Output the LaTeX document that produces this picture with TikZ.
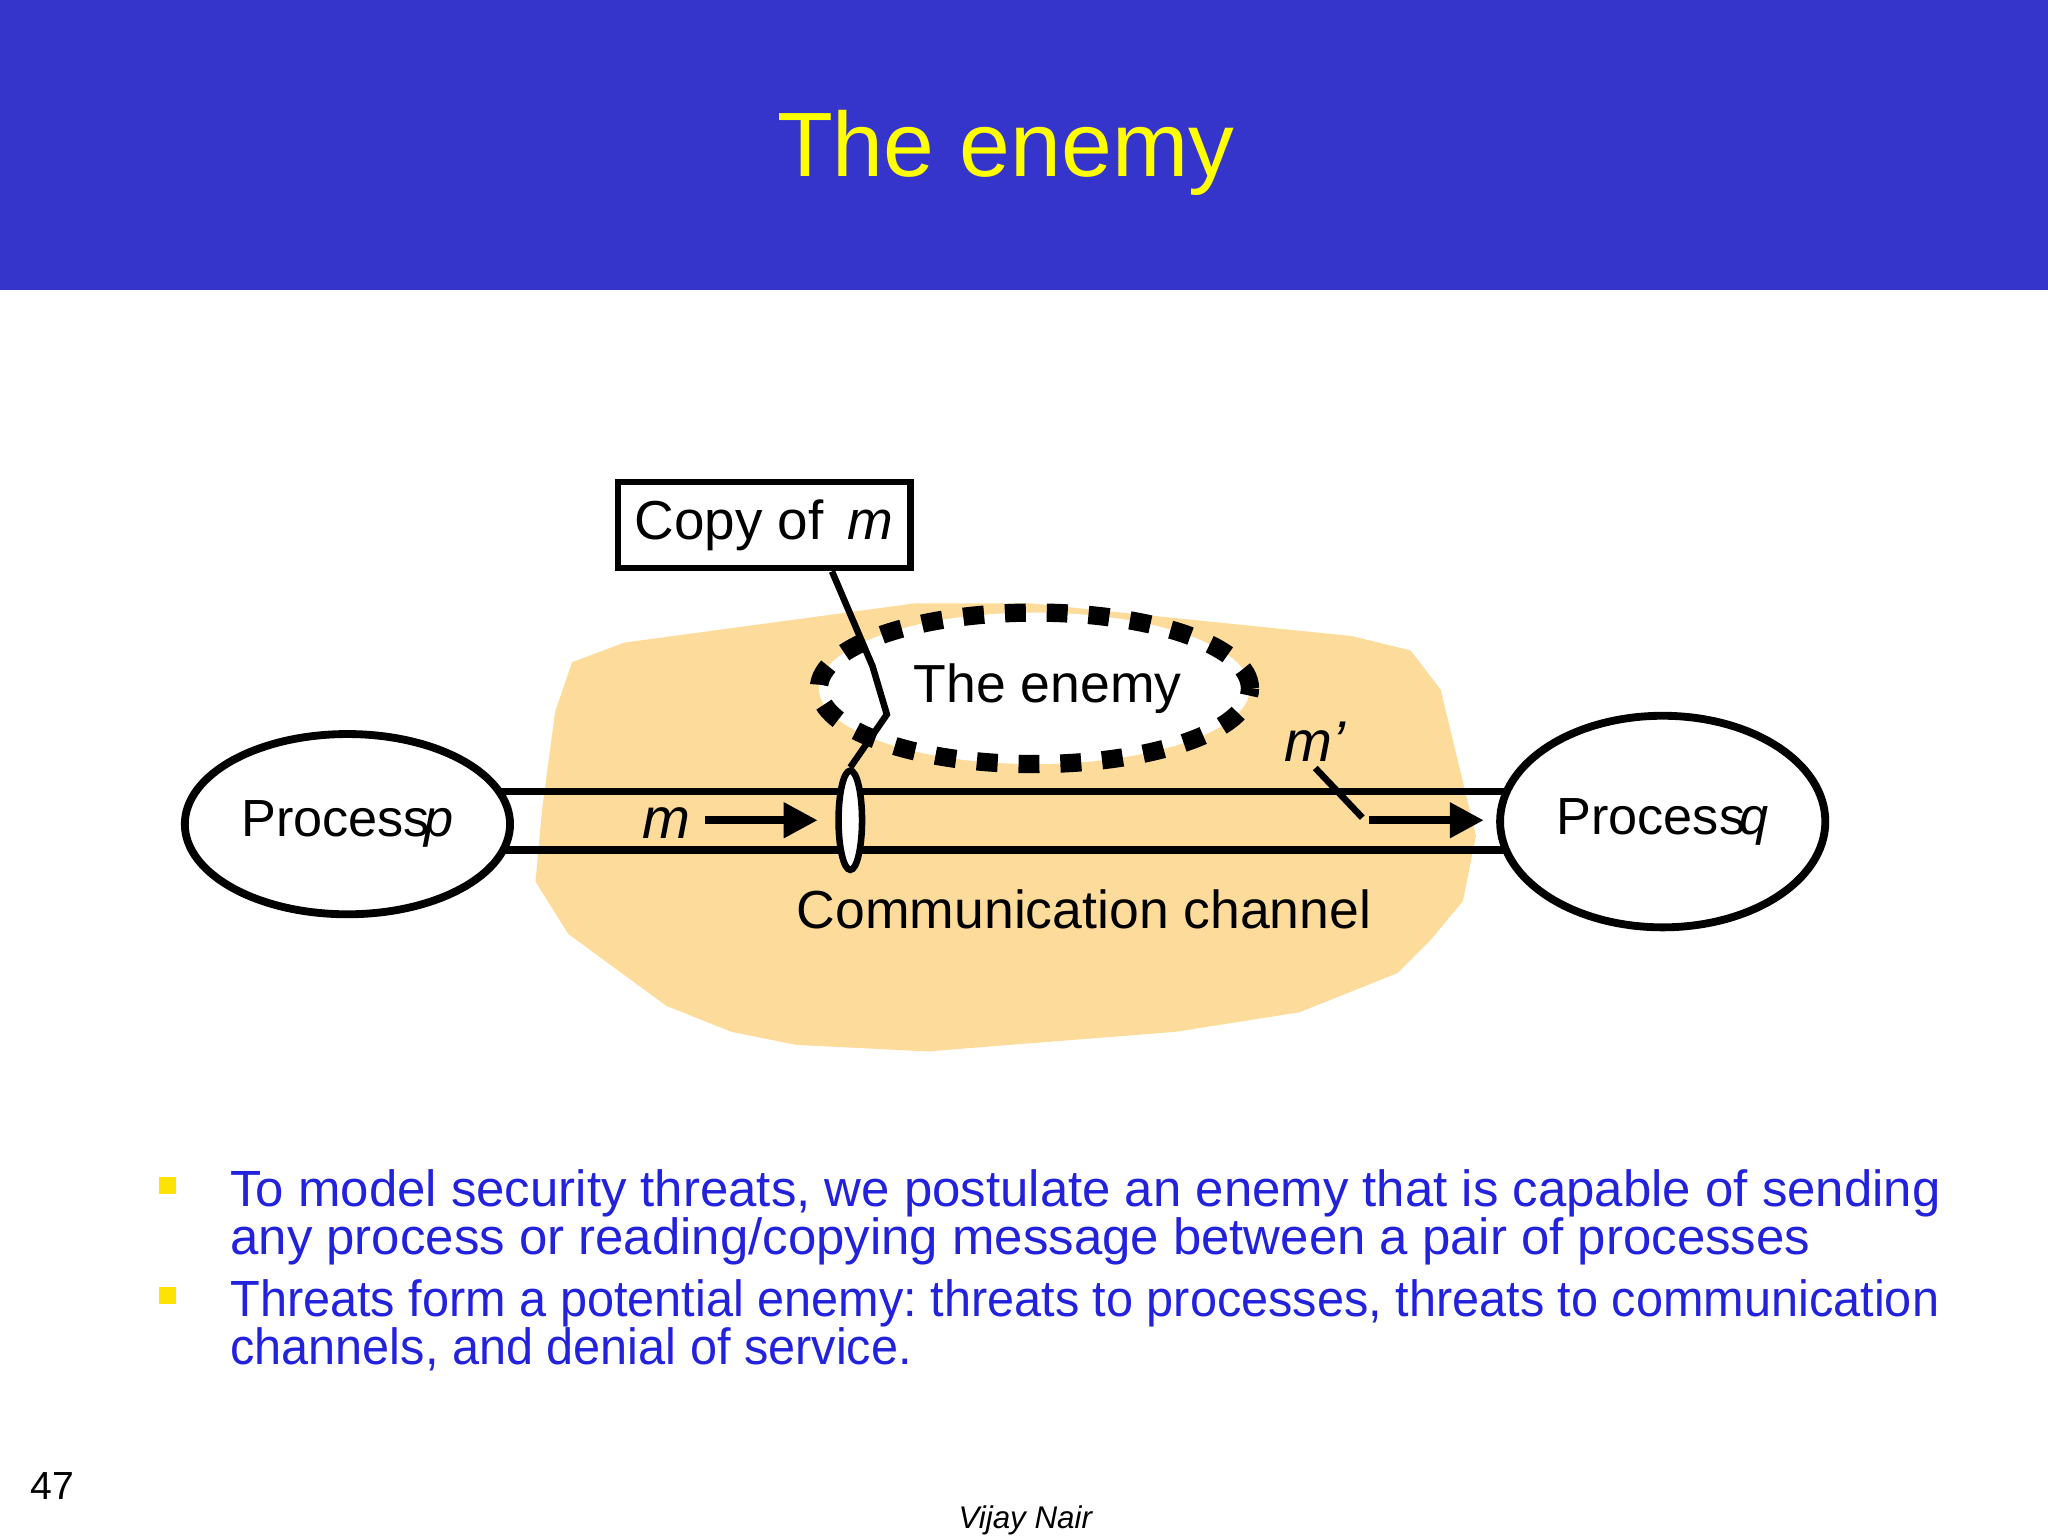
\documentclass[tikz,border=0pt]{standalone}
\usepackage{fontspec}
\setmainfont{Liberation Sans}
\frenchspacing
\begin{document}
\begin{tikzpicture}[x=0.5pt,y=-0.5pt,
  thk/.style={line width=3pt},
  proc/.style={ellipse,draw,line width=3pt,fill=white,font=\fontsize{20}{24}\selectfont},
  arr/.style={line width=3pt,-{Triangle[length=13pt,width=13pt]}},
  bul/.style={anchor=north west,align=left,inner sep=0pt,text=txtblue,font=\fontsize{19.5}{18.5}\selectfont}]
\usetikzlibrary{shapes.geometric,arrows.meta}
\definecolor{hdr}{HTML}{3535CC}
\definecolor{blob}{HTML}{FDDB9A}
\definecolor{txtblue}{HTML}{2222DD}
\definecolor{ttl}{HTML}{FFFF00}
\useasboundingbox (0,0) rectangle (1568,1176);
\fill[hdr] (0,0) rectangle (1568,222);
\node[text=ttl,font=\fontsize{35}{40}\selectfont] (title) at (770,117) {The enemy};
% blob
\fill[blob] (438,507) -- (478,492) -- (700,462) -- (790,462) -- (1035,487) -- (1080,498) -- (1103,528) -- (1130,640) -- (1120,690) -- (1095,720) -- (1070,745) -- (995,775) -- (900,790) -- (710,805) -- (610,800) -- (560,790) -- (510,770) -- (435,715) -- (410,675) -- (415,620) -- (425,545) -- cycle;
% enemy
\node[ellipse,draw,fill=white,line width=7pt,dash pattern=on 8pt off 8pt,minimum width=330pt*0.5,minimum height=116pt*0.5,inner sep=0pt] (enemy) at (792,527) {};
\node[font=\fontsize{20.5}{24}\selectfont] (enemyt) at (802,527) {The enemy};
% channel
\draw[thk] (380,606) -- (1158,606);
\draw[thk] (378,651) -- (1158,651);
\node[font=\fontsize{20.5}{24}\selectfont] (cc) at (830,696) {Communication channel};
% processes
\node[proc,minimum width=112pt,minimum height=69pt] (p) at (266,631) {Process\kern-2pt\textit{p}};
\node[proc,minimum width=116pt,minimum height=81pt] (q) at (1273,629) {Process\kern-2pt\textit{q}};
% tap
\node[ellipse,draw,fill=white,line width=2.5pt,minimum width=9pt,minimum height=38pt,inner sep=0pt] (tap) at (651,628) {};
\node[draw,line width=2.5pt,fill=white,font=\fontsize{21}{24}\selectfont,minimum width=112pt,minimum height=33pt] (copy) at (585,402) {Copy of\, \textit{m}};
\coordinate (b1) at (668,510);
\coordinate (b2) at (679,547);
\draw[line width=2.5pt] (copy.south -| 637,0) -- (b1) -- (b2) -- (tap.north);
% messages
\node[font=\itshape\fontsize{22}{24}\selectfont] (m) at (510,630) {m};
\coordinate (a1) at (540,628);
\coordinate (a2) at (626,628);
\draw[arr] (a1) -- (a2);
\node[font=\itshape\fontsize{22}{24}\selectfont] (mp) at (1007,568) {m’};
\coordinate (d1) at (1007,588);
\coordinate (d2) at (1043,626);
\draw[line width=2.5pt] (d1) -- (d2);
\coordinate (e1) at (1048,628);
\coordinate (e2) at (1136,628);
\draw[arr] (e1) -- (e2);
% bullets
\fill[yellow!85!orange] (122,901) rectangle (135,914);
\fill[yellow!85!orange] (122,985) rectangle (135,998);
\node[bul] (t1) at (176,895) {To model security threats, we postulate an enemy that is capable of sending\\any process or reading/copying message between a pair of processes};
\node[bul] (t2) at (176,979) {\scalebox{0.955}[1]{Threats form a potential enemy: threats to processes, threats to communication}\\\scalebox{0.955}[1]{channels, and denial of service.}};
\node[font=\fontsize{15}{16}\selectfont] (num) at (40,1138) {47};
\node[font=\rmfamily\itshape\fontsize{12}{14}\selectfont,anchor=north] (auth) at (785,1146) {Vijay Nair};
\end{tikzpicture}
\end{document}
